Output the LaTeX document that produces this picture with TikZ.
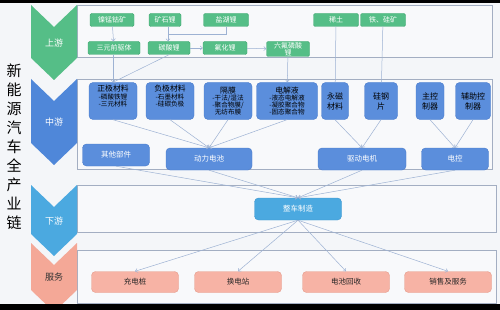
\documentclass[tikz,border=0pt]{standalone}
\usepackage{fontspec}
\setmainfont{Noto Sans CJK SC}
\usetikzlibrary{arrows.meta}
\definecolor{bgc}{HTML}{F4F6F9}
\definecolor{panf}{HTML}{F8F9FB}
\definecolor{pand}{HTML}{A3AEC2}
\definecolor{upf}{HTML}{55BE87}
\definecolor{upd}{HTML}{43A873}
\definecolor{midf}{HTML}{5B8EDC}
\definecolor{midd}{HTML}{4A7BCB}
\definecolor{midchev}{HTML}{4F87D9}
\definecolor{downf}{HTML}{4BA9E0}
\definecolor{downd}{HTML}{3E97CF}
\definecolor{svcf}{HTML}{F7B3A5}
\definecolor{svcd}{HTML}{E59C8C}
\definecolor{svcchev}{HTML}{F4A897}
\definecolor{lnc}{HTML}{9DB2D3}
\begin{document}
\begin{tikzpicture}[x=1pt,y=-1pt,
  panel/.style={draw=pand, fill=panf, line width=0.8pt},
  upn/.style={draw=upd, fill=upf, rounded corners=1.5pt, text=white, inner sep=0pt,
    minimum height=13pt, font=\fontsize{7}{7.5}\selectfont},
  midn/.style={draw=midd, fill=midf, rounded corners=4pt, text=black, inner sep=0pt,
    minimum height=37pt, align=center, font=\fontsize{6.6}{7.3}\selectfont},
  midb/.style={draw=midd, fill=midf, rounded corners=4pt, text=white, inner sep=0pt,
    minimum height=22pt, font=\fontsize{7.5}{8}\selectfont},
  svcn/.style={draw=svcd, fill=svcf, rounded corners=4pt, text=black!85, inner sep=0pt,
    minimum height=21pt, minimum width=87pt, font=\fontsize{7.5}{8}\selectfont},
  chevtxt/.style={font=\fontsize{9}{10}\selectfont},
  ln/.style={draw=lnc, line width=0.5pt},
  lna/.style={ln, -{Straight Barb[length=2.2pt,width=4pt]}}
]
\useasboundingbox (0,0) rectangle (500,310);
\fill[bgc] (0,0) rectangle (500,310);

% panels
\draw[panel] (77,5) rectangle (492,57);
\draw[panel] (77,79) rectangle (492,169);
\draw[panel] (77,185) rectangle (496,232);
\draw[panel] (77,250) rectangle (496,303);

% chevrons
\fill[upf] (31,5) -- (54,27) -- (77,5) -- (77,58) -- (54,80) -- (31,58) -- cycle;
\fill[midchev] (31,79) -- (54,101) -- (77,79) -- (77,143) -- (54,165) -- (31,143) -- cycle;
\fill[downf] (31,185) -- (54,207) -- (77,185) -- (77,234) -- (54,256) -- (31,234) -- cycle;
\fill[svcchev] (31,243) -- (54,265) -- (77,243) -- (77,290) -- (54,312) -- (31,290) -- cycle;
\node[chevtxt, text=white] (cu) at (54,43) {上游};
\node[chevtxt, text=white] (cm) at (54,122) {中游};
\node[chevtxt, text=white] (cd) at (54,221) {下游};
\node[chevtxt, text=black!80] (cs) at (54,277) {服务};

% title
\node[font=\fontsize{15}{19}\selectfont, align=center, inner sep=0pt] (title) at (14,147)
  {新\\能\\源\\汽\\车\\全\\产\\业\\链};

% upstream nodes
\node[upn, minimum width=44pt] (nmc) at (112,20) {镍锰钴矿};
\node[upn, minimum width=32pt] (kuang) at (165,20) {矿石锂};
\node[upn, minimum width=45pt] (yanhu) at (226,20) {盐湖锂};
\node[upn, minimum width=52pt] (sanyuan) at (114,48) {三元前驱体};
\node[upn, minimum width=42pt] (tansuan) at (169,48) {碳酸锂};
\node[upn, minimum width=44pt] (fuhua) at (225,48) {氟化锂};
\node[upn, minimum width=43pt, minimum height=15pt, align=center,
  font=\fontsize{7}{7}\selectfont] (liufu) at (288,49) {六氟磷酸\\锂};
\node[upn, minimum width=45pt] (xitu) at (336,20) {稀土};
\node[upn, minimum width=45pt] (tie) at (383,20) {铁、硅矿};

% midstream nodes
\node[midn, minimum width=48pt] (zhengji) at (113,101)
  {{\fontsize{7.8}{8}\selectfont 正极材料}\\-磷酸铁锂\\-三元材料\\[3pt]};
\node[midn, minimum width=48pt] (fuji) at (170,101)
  {{\fontsize{7.8}{8}\selectfont 负极材料}\\-石墨材料\\-硅碳负极\\[3pt]};
\node[midn, minimum width=48pt] (gemo) at (228,101)
  {{\fontsize{7.8}{8}\selectfont 隔膜}\\-干法/湿法\\-聚合物膜/\\无纺布膜};
\node[midn, minimum width=61pt] (dianjieye) at (287,101)
  {{\fontsize{7.8}{8}\selectfont 电解液}\\-液态电解液\\-凝胶聚合物\\-固态聚合物};
\node[midn, minimum width=27pt, font=\fontsize{8}{10}\selectfont] (yongci) at (335,101) {永磁\\材料};
\node[midn, minimum width=33pt, font=\fontsize{8}{10}\selectfont] (guigang) at (381,101) {硅钢\\片};
\node[midn, minimum width=28pt, font=\fontsize{8}{10}\selectfont] (zhukong) at (430,101) {主控\\制器};
\node[midn, minimum width=35pt, font=\fontsize{8}{10}\selectfont] (fuzhu) at (473,101) {辅助控\\制器};

\node[midb, minimum width=67pt] (qita) at (116,155) {其他部件};
\node[midb, minimum width=86pt] (dongli) at (209,159) {动力电池};
\node[midb, minimum width=88pt] (qudong) at (362,159) {驱动电机};
\node[midb, minimum width=67pt] (diankong) at (455,159) {电控};

% downstream
\node[draw=downd, fill=downf, rounded corners=4pt, text=white, inner sep=0pt,
  minimum width=87pt, minimum height=22pt, font=\fontsize{7.5}{8}\selectfont] (zhengche) at (298,209) {整车制造};

% service
\node[svcn] (chong) at (135,282) {充电桩};
\node[svcn] (huan) at (238,282) {换电站};
\node[svcn] (huishou) at (346,282) {电池回收};
\node[svcn] (xiaoshou) at (448,282) {销售及服务};

% upstream connectors
\coordinate (jct) at (168,34);
\draw[lna] (nmc) -- (sanyuan);
\draw[lna] (kuang.south -| jct) -- (jct |- tansuan.north);
\draw[ln] (yanhu.south) |- (jct);
\draw[lna] (tansuan) -- (fuhua);
\draw[lna] (fuhua) -- (liufu);
\draw[lna] (liufu) -- (dianjieye);
\draw[lna] (sanyuan.south -| zhengji) -- (zhengji.north);
\draw[lna] (tansuan.south) -- (zhengji.north);
\draw[ln] (xitu) -- (yongci);
\draw[ln] (tie) -- (guigang);

% midstream connectors
\foreach \s in {zhengji,fuji,gemo,dianjieye} \draw[lna] (\s.south) -- (dongli.north);
\foreach \s in {yongci,guigang} \draw[lna] (\s.south) -- (qudong.north);
\foreach \s in {zhukong,fuzhu} \draw[lna] (\s.south) -- (diankong.north);

% to vehicle
\foreach \s in {qita,dongli,qudong,diankong} \draw[lna] (\s.south) -- (zhengche.north);
\foreach \t in {chong,huan,huishou,xiaoshou} \draw[lna] (zhengche.south) -- (\t.north);

% black bars
\fill[black] (0,0) rectangle (500,3);
\fill[black] (0,304) rectangle (500,310);
\end{tikzpicture}
\end{document}
